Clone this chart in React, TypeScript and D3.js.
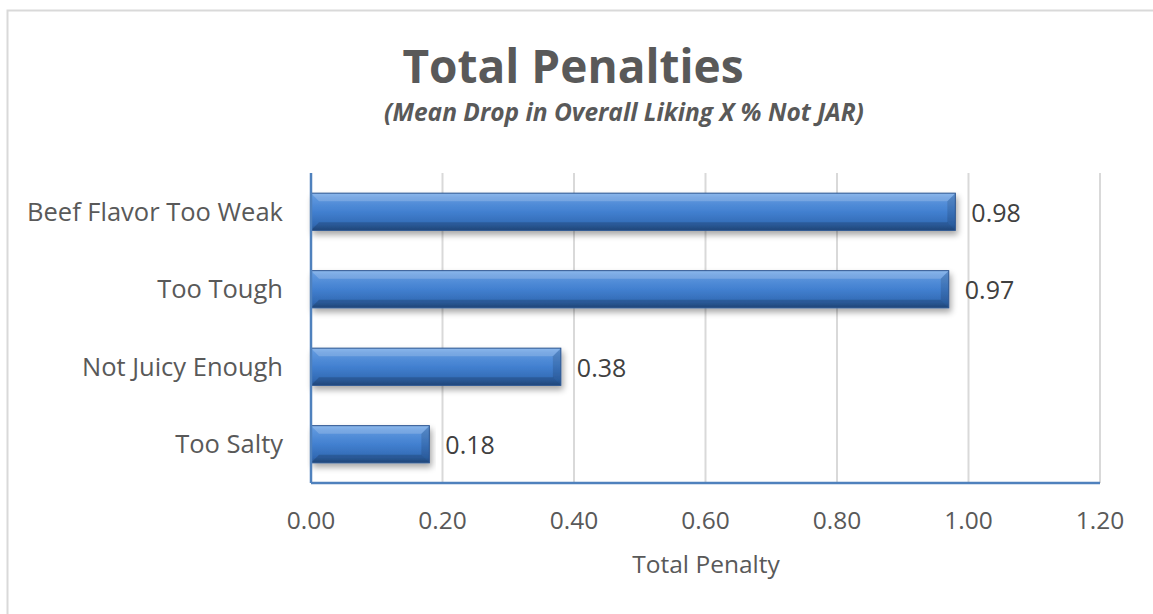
import React from "react";
import * as d3 from "d3";

const categories = ["Beef Flavor Too Weak", "Too Tough", "Not Juicy Enough", "Too Salty"];
const values = [0.98, 0.97, 0.38, 0.18];
const tickValues = [0, 0.2, 0.4, 0.6, 0.8, 1.0, 1.2];

const W = 1153;
const H = 614;
const FONT = "'Open Sans', 'Noto Sans', sans-serif";

export default function App() {
  const m = { left: 311, right: 1100, top: 173, bottom: 483 };
  const x = d3.scaleLinear().domain([0, 1.2]).range([m.left, m.right]);
  const y = d3.scaleBand<string>().domain(categories).range([m.top, m.bottom]).paddingInner(0.52).paddingOuter(0.26);
  const bh = y.bandwidth();
  return (
    <svg width={W} height={H} style={{ position: "absolute", left: 0, top: 0, background: "#fff" }}>
      <defs>
        <linearGradient id="barG" x1="0" y1="0" x2="0" y2="1">
          <stop offset="0" stopColor="#72a8e8" />
          <stop offset="0.12" stopColor="#5e97de" />
          <stop offset="0.5" stopColor="#4280d0" />
          <stop offset="0.85" stopColor="#326ab4" />
          <stop offset="1" stopColor="#27548f" />
        </linearGradient>
        <filter id="sh" x="-5%" y="-30%" width="110%" height="180%">
          <feGaussianBlur in="SourceAlpha" stdDeviation="3" />
          <feOffset dx="2" dy="4" result="b" />
          <feComponentTransfer><feFuncA type="linear" slope="0.35" /></feComponentTransfer>
          <feMerge><feMergeNode /><feMergeNode in="SourceGraphic" /></feMerge>
        </filter>
      </defs>
      <rect x={7.5} y={10.5} width={1160} height={620} fill="#fff" stroke="#d9d9d9" strokeWidth={2} />
      <text x={573} y={83} textAnchor="middle" fontFamily={FONT} fontWeight="bold" fontSize={46} fill="#595959">Total Penalties</text>
      <text x={624} y={121} textAnchor="middle" fontFamily={FONT} fontWeight="bold" fontStyle="italic" fontSize={24.5} fill="#595959">(Mean Drop in Overall Liking X % Not JAR)</text>
      {tickValues.slice(1).map((t) => (
        <line key={t} x1={x(t)} x2={x(t)} y1={m.top} y2={m.bottom} stroke="#d9d9d9" strokeWidth={2} />
      ))}
      {categories.map((c, i) => {
        const y0 = y(c)!;
        const x1 = x(values[i]);
        const w = x1 - m.left;
        const e = 8;
        return (
          <g key={c} filter="url(#sh)">
            <rect x={m.left} y={y0} width={w} height={bh} fill="url(#barG)" />
            <polygon points={`${m.left},${y0} ${x1},${y0} ${x1 - e},${y0 + e} ${m.left + e},${y0 + e}`} fill="#ffffff" opacity={0.18} />
            <polygon points={`${x1},${y0} ${x1},${y0 + bh} ${x1 - e},${y0 + bh - e} ${x1 - e},${y0 + e}`} fill="#000" opacity={0.12} />
            <polygon points={`${m.left},${y0 + bh} ${x1},${y0 + bh} ${x1 - e},${y0 + bh - e} ${m.left + e},${y0 + bh - e}`} fill="#000" opacity={0.16} />
            <rect x={m.left} y={y0} width={w} height={bh} fill="none" stroke="#2c5590" strokeWidth={1} />
          </g>
        );
      })}
      {categories.map((c, i) => (
        <text key={"v" + c} x={x(values[i]) + 16} y={y(c)! + bh / 2 + 10} fontFamily={FONT} fontSize={25} fill="#404040">{values[i].toFixed(2)}</text>
      ))}
      {categories.map((c) => (
        <text key={"c" + c} x={283} y={y(c)! + bh / 2 + 9} textAnchor="end" fontFamily={FONT} fontSize={25.5} fill="#595959">{c}</text>
      ))}
      <line x1={m.left} x2={m.left} y1={m.top} y2={m.bottom} stroke="#4f81bd" strokeWidth={2.5} />
      <line x1={m.left} x2={m.right} y1={m.bottom} y2={m.bottom} stroke="#4f81bd" strokeWidth={2.5} />
      {tickValues.map((t) => (
        <text key={"t" + t} x={x(t)} y={529} textAnchor="middle" fontFamily={FONT} fontSize={24.5} fill="#595959">{t.toFixed(2)}</text>
      ))}
      <text x={706} y={573} textAnchor="middle" fontFamily={FONT} fontSize={24.5} fill="#595959">Total Penalty</text>
    </svg>
  );
}
